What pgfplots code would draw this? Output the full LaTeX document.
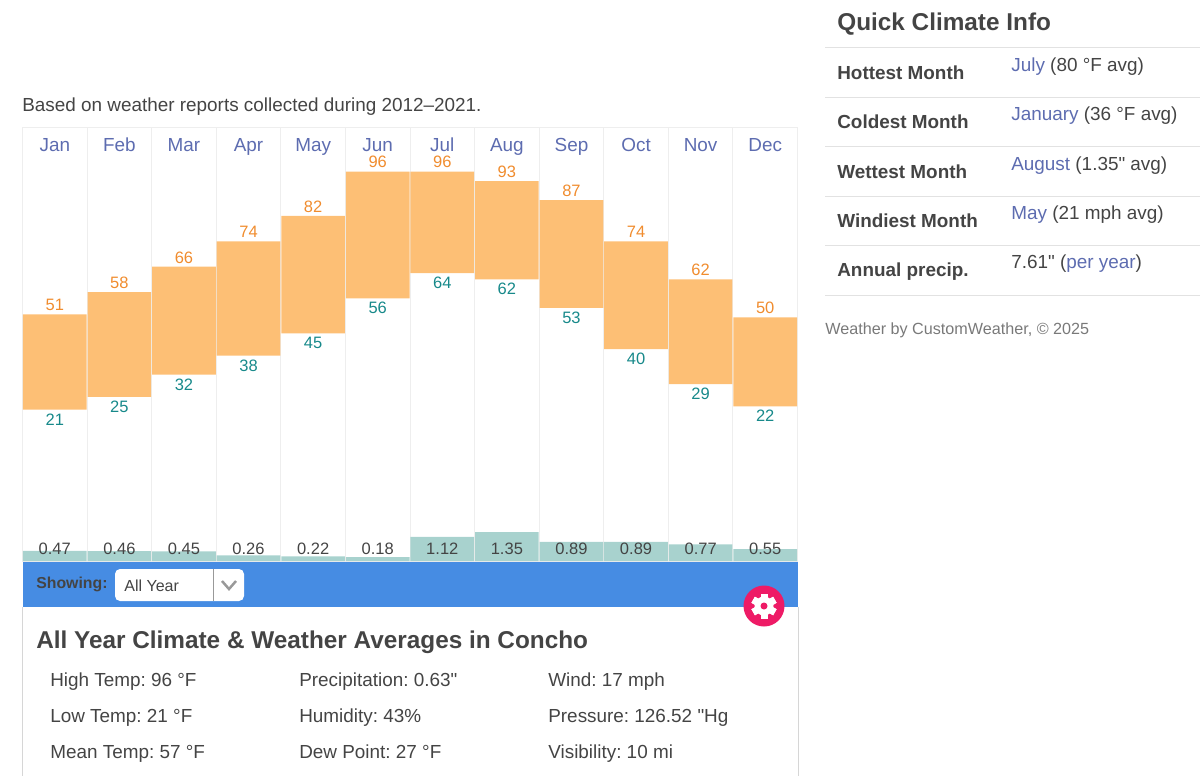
\documentclass[border=0pt]{standalone}
\usepackage{fontspec}
\setmainfont{Liberation Sans}[Ligatures=TeXOff]
\usepackage{pgfplots}
\usepackage{pgfplotstable}
\pgfplotsset{compat=1.18}
\frenchspacing

\definecolor{barorange}{HTML}{FDBF75}
\definecolor{hightext}{HTML}{F08C2E}
\definecolor{lowtext}{HTML}{17898A}
\definecolor{rainbar}{HTML}{A8D2CE}
\definecolor{gridc}{HTML}{EEEEEE}
\definecolor{linkc}{HTML}{5D6CB0}
\definecolor{darkt}{HTML}{444444}
\definecolor{bandc}{HTML}{468CE3}
\definecolor{pinkc}{HTML}{EE1B66}

% sizes given in screen pixels (1px = 0.6pt)
\newcommand{\fsmall}{\fontsize{9.9pt}{12pt}\selectfont}
\newcommand{\fmain}{\fontsize{11.34pt}{13pt}\selectfont}
\newcommand{\fbig}{\fontsize{14.6pt}{17pt}\selectfont}

\pgfplotstableread{
m low high rain
0 21 51 0.47
1 25 58 0.46
2 32 66 0.45
3 38 74 0.26
4 45 82 0.22
5 56 96 0.18
6 64 96 1.12
7 62 93 1.35
8 53 87 0.89
9 40 74 0.89
10 29 62 0.77
11 22 50 0.55
}\climate

\pgfplotsset{
  panel/.style={
    scale only axis,
    width=465pt, height=260.4pt,
    at={(13.5pt,-336.6pt)}, anchor=south west,
    xmin=-0.5, xmax=11.5,
    clip=false,
  },
}

\begin{document}
\begin{tikzpicture}
  \path[use as bounding box] (0,0) rectangle (720pt,-465.6pt);

  % temperature bars
  \begin{axis}[
      panel,
      ymin=-26.74, ymax=110.03,
      ybar stacked,
      bar width=38.2pt,
      axis line style={gridc},
      ytick=\empty,
      xtick={0,...,11},
      xticklabels={Jan,Feb,Mar,Apr,May,Jun,Jul,Aug,Sep,Oct,Nov,Dec},
      xticklabel pos=upper,
      major tick length=0pt,
      minor tick length=0pt,
      xticklabel style={font=\fmain, text=linkc, anchor=base, yshift=-14.6pt},
      minor xtick={0.5,1.5,...,10.5},
      xminorgrids,
      minor grid style={gridc, line width=0.6pt},
    ]
    \addplot[draw=none, fill=none] table[x=m, y=low] {\climate};
    \addplot[draw=none, fill=barorange]
      table[x=m, y expr=\thisrow{high}-\thisrow{low}] {\climate};
  \end{axis}

  % temperature labels
  \begin{axis}[
      panel,
      ymin=-26.74, ymax=110.03,
      hide axis,
      point meta=explicit symbolic,
      nodes near coords,
    ]
    \addplot[draw=none, mark=none,
      nodes near coords style={font=\fsmall, text=lowtext, anchor=center, yshift=-5.9pt}]
      table[x=m, y=low, meta=low] {\climate};
    \addplot[draw=none, mark=none,
      nodes near coords style={font=\fsmall, text=hightext, anchor=center, yshift=5.6pt}]
      table[x=m, y=high, meta=high] {\climate};
  \end{axis}

  % precipitation bars
  \begin{axis}[
      panel,
      ymin=0, ymax=20.2,
      hide axis,
    ]
    \addplot[ybar, bar width=38.2pt, bar shift=0pt, draw=none, fill=rainbar]
      table[x=m, y=rain] {\climate};
    \addplot[draw=none, mark=none, point meta=explicit symbolic, nodes near coords,
      nodes near coords style={font=\fsmall, text=darkt, anchor=center, yshift=7.6pt}]
      table[x=m, y expr=0, meta=rain] {\climate};
  \end{axis}

  \begin{scope}[x=0.6pt, y=-0.6pt]
    \newcommand{\T}[4]{\node[anchor=base west, inner sep=0pt, text=#1] at (#2,#3) {#4};}

    \T{darkt}{22}{111}{\fmain Based on weather reports collected during 2012–2021.}

    % band under the chart and the card below it
    \fill[bandc] (22.5,562) rectangle (798,607);
    \draw[gridc!90!black, line width=0.6pt] (22.5,607) -- (22.5,776) (798,607) -- (798,776);
    \T{darkt}{36}{588}{\fontsize{9.5pt}{11pt}\selectfont\bfseries Showing:}
    \fill[white, rounded corners=3pt] (115,569) rectangle (244,601);
    \draw[gray!80, line width=0.6pt] (213,569) -- (213,601);
    \draw[gray!80, line width=1.5pt] (222,581) -- (229,589) -- (236,581);
    \T{darkt}{124}{591}{\fontsize{9.6pt}{12pt}\selectfont All Year}

    % settings button
    \fill[pinkc] (764,606) circle (20.5);
    \foreach \a in {0,60,...,300} {
      \fill[white, rotate around={\a:(764,606)}] (760.5,593.5) rectangle (767.5,618.5);
    }
    \fill[white] (764,606) circle (9.5);
    \fill[pinkc] (764,606) circle (3.5);

    \T{darkt}{36}{648}{\fbig\bfseries All Year Climate \& Weather Averages in Concho}
    \T{darkt}{50}{686}{\fmain High Temp: 96 °F}
    \T{darkt}{50}{722}{\fmain Low Temp: 21 °F}
    \T{darkt}{50}{758}{\fmain Mean Temp: 57 °F}
    \T{darkt}{299}{686}{\fmain Precipitation: 0.63"}
    \T{darkt}{299}{722}{\fmain Humidity: 43\%}
    \T{darkt}{299}{758}{\fmain Dew Point: 27 °F}
    \T{darkt}{548}{686}{\fmain Wind: 17 mph}
    \T{darkt}{548}{722}{\fmain Pressure: 126.52 "Hg}
    \T{darkt}{548}{758}{\fmain Visibility: 10 mi}

    % side panel
    \T{darkt}{837}{31}{\fbig\bfseries Quick Climate Info}
    \foreach \y in {48,97.5,146.5,196,245.5,295} {
      \draw[gridc!95!black, line width=0.6pt] (825,\y) -- (1200,\y);
    }
    \T{darkt}{837}{79}{\fmain\bfseries Hottest Month}
    \T{darkt}{837}{128.5}{\fmain\bfseries Coldest Month}
    \T{darkt}{837}{178}{\fmain\bfseries Wettest Month}
    \T{darkt}{837}{227}{\fmain\bfseries Windiest Month}
    \T{darkt}{837}{276.5}{\fmain\bfseries Annual precip.}
    \T{darkt}{1011}{71}{\fmain\textcolor{linkc}{July} (80 °F avg)}
    \T{darkt}{1011}{120}{\fmain\textcolor{linkc}{January} (36 °F avg)}
    \T{darkt}{1011}{170}{\fmain\textcolor{linkc}{August} (1.35" avg)}
    \T{darkt}{1011}{219}{\fmain\textcolor{linkc}{May} (21 mph avg)}
    \T{darkt}{1011}{268}{\fmain 7.61" (\textcolor{linkc}{per year})}
    \T{gray!95!black}{825}{334}{\fontsize{9.7pt}{12pt}\selectfont Weather by CustomWeather, © 2025}
  \end{scope}
\end{tikzpicture}
\end{document}
